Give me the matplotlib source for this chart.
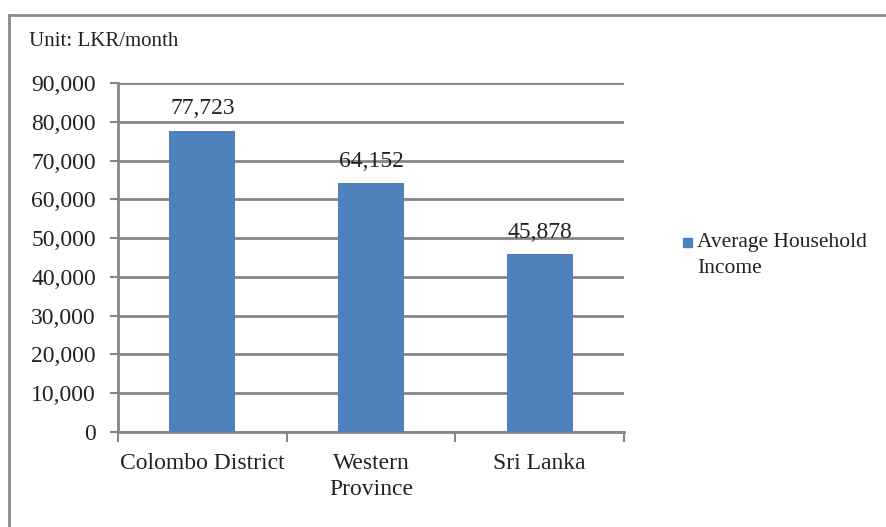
# import statements
import matplotlib
matplotlib.use('Agg')
import matplotlib.pyplot as plt
from matplotlib.lines import Line2D
from matplotlib.patches import Rectangle

# data
regions = ['Colombo District', 'Western\nProvince', 'Sri Lanka']
income = [77723, 64152, 45878]
yticks = [0, 10000, 20000, 30000, 40000, 50000, 60000, 70000, 80000, 90000]
series_name = 'Average Household\nIncome'

bar_color = '#4F81BD'
grid_color = '#868686'

plt.rcParams['font.family'] = 'Liberation Serif'

# create the figure
fig = plt.figure(figsize=(8.86, 5.27), dpi=100)
ax = fig.add_axes([0.1332, 0.1803, 0.5711, 0.6622])

x = range(len(regions))
ax.bar(x, income, width=0.39, color=bar_color, zorder=3)

# value labels above bars
for xi, v in zip(x, income):
    ax.annotate(f'{v:,}', (xi, v), xytext=(0, 8), textcoords='offset points',
                ha='center', va='bottom', fontsize=17, color='#222222')

# y axis
ax.set_ylim(0, 90000)
ax.set_yticks(yticks)
ax.set_yticklabels([f'{t:,}' for t in yticks], fontsize=17, color='#222222')
ax.yaxis.grid(True, color=grid_color, linewidth=2, zorder=0)
ax.tick_params(axis='y', length=6, width=1.5, color=grid_color, pad=10)

# x axis: tick marks between categories, labels under each bar
ax.set_xlim(-0.5, 2.5)
ax.set_xticks([-0.5, 0.5, 1.5, 2.5])
ax.set_xticklabels([])
ax.set_xticks(list(x), minor=True)
ax.set_xticklabels(regions, minor=True, fontsize=17, color='#222222',
                   linespacing=1.35)
ax.tick_params(axis='x', which='major', length=7, width=1.5, color=grid_color)
ax.tick_params(axis='x', which='minor', length=0, pad=15)

for side in ['top', 'right']:
    ax.spines[side].set_visible(False)
for side in ['left', 'bottom']:
    ax.spines[side].set_color(grid_color)
    ax.spines[side].set_linewidth(2)

# unit label
fig.text(0.033, 0.922, 'Unit: LKR/month', fontsize=15, color='#222222',
         ha='left', va='center')

# legend: square key next to the first line of the label
fig.add_artist(Rectangle((0.7709, 0.5313), 0.0102, 0.0171, color=bar_color,
                         transform=fig.transFigure))
fig.text(0.7867, 0.5152, series_name, fontsize=15.5, color='#222222',
         ha='left', va='center', linespacing=1.45)

# outer frame (left and top edges)
fig.add_artist(Line2D([0.0102, 0.0102], [0.0, 0.972], color='#8c8c8c',
                      linewidth=2, transform=fig.transFigure))
fig.add_artist(Line2D([0.0102, 1.0], [0.972, 0.972], color='#8c8c8c',
                      linewidth=2, transform=fig.transFigure))

plt.savefig('out.png', dpi=100)
